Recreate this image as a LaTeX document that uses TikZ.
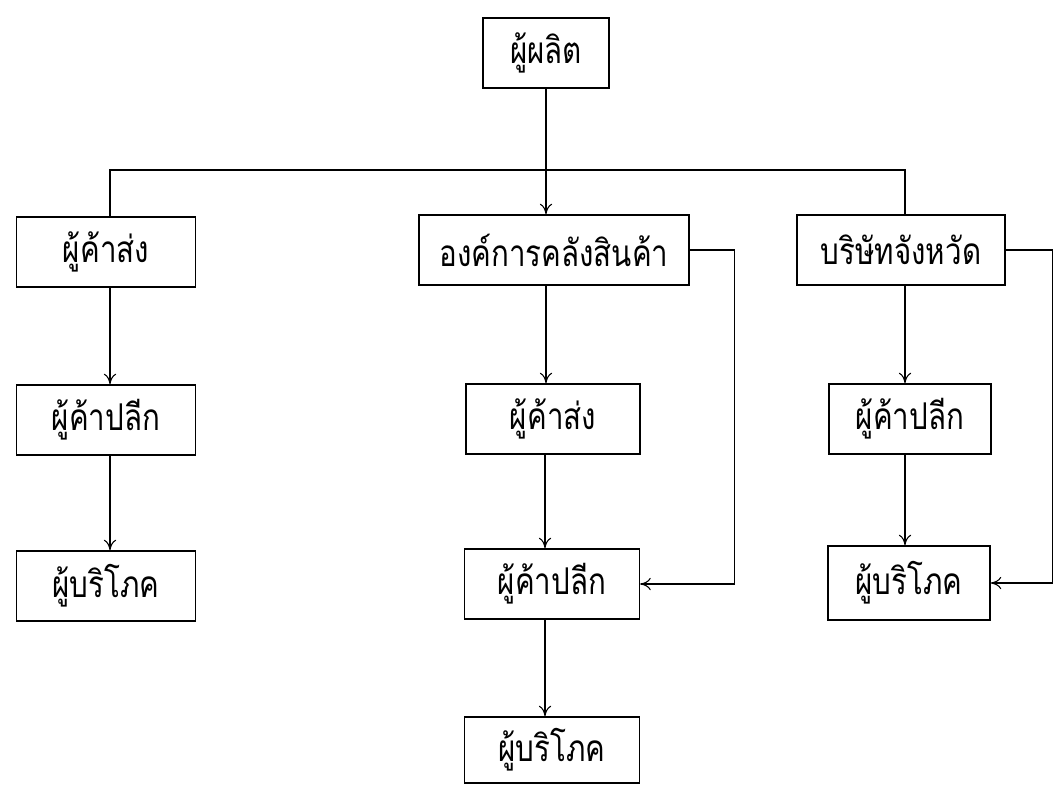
\documentclass[tikz,border=0pt]{standalone}
\usepackage{fontspec}
\newfontfamily\thaifont[Script=Thai,FakeStretch=0.8]{Loma}
\usepackage{tikz}
\usetikzlibrary{arrows.meta}
\tikzset{box/.style={draw,thick,inner sep=0pt,minimum height=1.4cm,font=\thaifont\fontsize{21}{25}\selectfont}}
\tikzset{link/.style={-{To[length=6pt,width=7pt]},semithick}}

\begin{document}
\begin{tikzpicture}[x=0.02cm, y=-0.02cm]

\useasboundingbox (0,0) rectangle (1061,802);

% top
\node [box, minimum width=2.52cm] (prod) at (546,53) {ผู้ผลิต};

% second row
\node [box, minimum width=3.58cm] (ws1) at (106,252) {ผู้ค้าส่ง};
\node [box, minimum width=5.4cm] (org) at (554,250) {องค์การคลังสินค้า};
\node [box, minimum width=4.16cm] (co) at (901,250) {บริษัทจังหวัด};

% left column
\node [box, minimum width=3.58cm] (rt1) at (106,420) {ผู้ค้าปลีก};
\node [box, minimum width=3.58cm] (cons1) at (106,586) {ผู้บริโภค};

% middle column
\node [box, minimum width=3.48cm] (ws2) at (553,419) {ผู้ค้าส่ง};
\node [box, minimum width=3.5cm] (rt2) at (552,584) {ผู้ค้าปลีก};
\node [box, minimum width=3.5cm, minimum height=1.32cm] (cons2) at (552,750) {ผู้บริโภค};

% right column
\node [box, minimum width=3.24cm] (rt3) at (910,419) {ผู้ค้าปลีก};
\node [box, minimum width=3.24cm, minimum height=1.48cm] (cons3) at (909,583) {ผู้บริโภค};

% bus below the producer
\coordinate (busL) at (110,170);
\coordinate (busR) at (905,170);
\draw [semithick] (ws1.north -| busL) -- (busL) -- (busR) -- (busR |- co.north);
\draw [link] (prod.south) -- (prod.south |- org.north);

% down the columns
\coordinate (mid) at (545,0);
\draw [link] (ws1.south -| busL) -- (rt1.north -| busL);
\draw [link] (rt1.south -| busL) -- (cons1.north -| busL);
\draw [link] (org.south -| prod.south) -- (ws2.north -| prod.south);
\draw [link] (ws2.south -| mid) -- (rt2.north -| mid);
\draw [link] (rt2.south -| mid) -- (cons2.north -| mid);
\draw [link] (co.south -| busR) -- (rt3.north -| busR);
\draw [link] (rt3.south -| busR) -- (cons3.north -| busR);

% side paths
\draw [link] (org.east) -- ++(45,0) |- (rt2.east);
\draw [link] (co.east) -- ++(47,0) |- (cons3.east);

\end{tikzpicture}
\end{document}
